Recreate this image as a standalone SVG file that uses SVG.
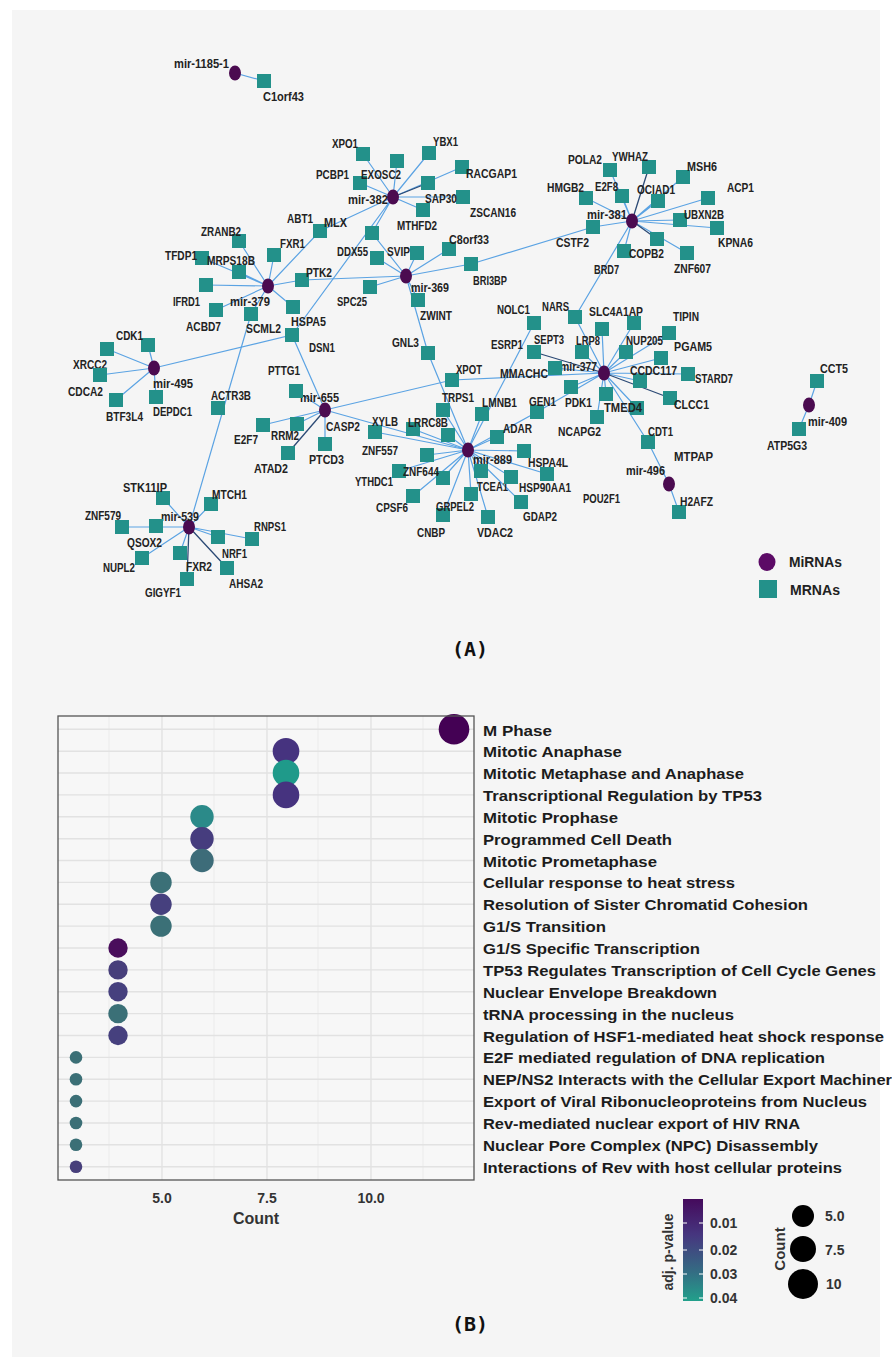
<svg xmlns="http://www.w3.org/2000/svg" width="892" height="1367" viewBox="0 0 892 1367">
<defs>
<style>
.e{stroke:#5ba3e3;stroke-width:1.2;fill:none}
.d{stroke:#2c4a75;stroke-width:1.3;fill:none}
.m{fill:#4b0b50}
.s{fill:#23918a}
.t{font-family:"Liberation Sans",Arial,sans-serif;font-weight:bold;font-size:13px;fill:#222}
.g{stroke:#e2e2e2;stroke-width:1.4}
.gm{stroke:#ebebeb;stroke-width:1}
.r{font-family:"Liberation Sans",Arial,sans-serif;font-weight:bold;font-size:15px;fill:#1c1c1c}
.ax{font-family:"Liberation Sans",Arial,sans-serif;font-weight:bold;font-size:14px;fill:#333}
.cap{font-family:"DejaVu Sans Mono",monospace;font-weight:bold;font-size:20px;fill:#111}
</style>
<linearGradient id="vir" x1="0" y1="0" x2="0" y2="1">
<stop offset="0" stop-color="#450a5c"/>
<stop offset="0.35" stop-color="#46367f"/>
<stop offset="0.7" stop-color="#356a83"/>
<stop offset="1" stop-color="#22a08b"/>
</linearGradient>
</defs>
<rect width="892" height="1367" fill="#ffffff"/>
<rect x="12" y="10" width="868" height="1347" fill="#f5f5f5"/>

<g id="connectors">
<path class="e" d="M235 73L264 81"/>
<path class="e" d="M393 197L363 154M393 197L397 161M393 197L429 153M393 197L360 183M393 197L462 167M393 197L463 197M393 197L423 210M393 197L320 231M393 197L372 233M393 197L292 335"/>
<path class="d" d="M393 197L428 183"/>
<path class="e" d="M632 221L610 170M632 221L683 177M632 221L586 198M632 221L622 196M632 221L658 201M632 221L708 198M632 221L680 220M632 221L717 228M632 221L593 227M632 221L624 251M632 221L687 253M632 221L575 317"/>
<path class="d" d="M632 221L649 167M632 221L657 239"/>
<path class="e" d="M593 227L471 264L406 276"/>
<path class="e" d="M268 286L239 241M268 286L274 255M268 286L202 258M268 286L239 272M268 286L206 285M268 286L216 310M268 286L251 314M268 286L293 307M268 286L302 280M268 286L320 231"/>
<path class="e" d="M302 280L406 276"/>
<path class="e" d="M406 276L377 258M406 276L417 253M406 276L449 249M406 276L370 287M406 276L418 300M406 276L372 233M406 276L428 353L468 450"/>
<path class="e" d="M154 368L148 345M154 368L107 349M154 368L100 375M154 368L116 400M154 368L156 397M154 368L292 335L325 410"/>
<path class="e" d="M325 410L296 391M325 410L263 425M325 410L297 424M325 410L325 444M325 410L452 380L604 373M325 410L468 450"/>
<path class="d" d="M325 410L288 453"/>
<path class="e" d="M604 373L575 317M604 373L602 329M604 373L634 323M604 373L669 333M604 373L582 352M604 373L626 352M604 373L661 358M604 373L555 368M604 373L640 381M604 373L688 374M604 373L571 387M604 373L606 394M604 373L637 408M604 373L597 417M604 373L648 442L669 484L679 512M604 373L537 412L468 450"/>
<path class="d" d="M604 373L534 352M604 373L670 398"/>
<path class="e" d="M534 323L468 450"/>
<path class="e" d="M468 450L443 410M468 450L448 435M468 450L482 414M468 450L497 437M468 450L375 432M468 450L413 429M468 450L427 455M468 450L399 471M468 450L443 478M468 450L481 471M468 450L511 477M468 450L547 474M468 450L524 451M468 450L413 496M468 450L471 494M468 450L521 502M468 450L443 515M468 450L488 517"/>
<path class="e" d="M189 527L163 498M189 527L211 504M189 527L122 527M189 527L142 558M189 527L180 553M189 527L218 537M189 527L252 539M189 527L251 314"/>
<path class="d" d="M189 527L187 579M189 527L227 568"/>
<path class="e" d="M809 405L817 381M809 405L799 429"/>
</g>

<g id="network-nodes">
<g id="mir-1185-1"><ellipse class="m" cx="235" cy="73" rx="6" ry="7.5"/><text class="t" x="174" y="68" textLength="55" lengthAdjust="spacingAndGlyphs">mir-1185-1</text></g>
<g id="mir-382"><ellipse class="m" cx="393" cy="197" rx="6" ry="7.5"/><text class="t" x="348" y="204" textLength="40" lengthAdjust="spacingAndGlyphs">mir-382</text></g>
<g id="mir-381"><ellipse class="m" cx="632" cy="221" rx="6" ry="7.5"/><text class="t" x="587" y="219" textLength="40" lengthAdjust="spacingAndGlyphs">mir-381</text></g>
<g id="mir-379"><ellipse class="m" cx="268" cy="286" rx="6" ry="7.5"/><text class="t" x="230" y="306" textLength="40" lengthAdjust="spacingAndGlyphs">mir-379</text></g>
<g id="mir-369"><ellipse class="m" cx="406" cy="276" rx="6" ry="7.5"/><text class="t" x="411" y="292" textLength="38" lengthAdjust="spacingAndGlyphs">mir-369</text></g>
<g id="mir-495"><ellipse class="m" cx="154" cy="368" rx="6" ry="7.5"/><text class="t" x="153" y="388" textLength="40" lengthAdjust="spacingAndGlyphs">mir-495</text></g>
<g id="mir-655"><ellipse class="m" cx="325" cy="410" rx="6" ry="7.5"/><text class="t" x="300" y="402" textLength="39" lengthAdjust="spacingAndGlyphs">mir-655</text></g>
<g id="mir-377"><ellipse class="m" cx="604" cy="373" rx="6" ry="7.5"/><text class="t" x="560" y="371" textLength="37" lengthAdjust="spacingAndGlyphs">mir-377</text></g>
<g id="mir-889"><ellipse class="m" cx="468" cy="450" rx="6" ry="7.5"/><text class="t" x="473" y="464" textLength="39" lengthAdjust="spacingAndGlyphs">mir-889</text></g>
<g id="mir-539"><ellipse class="m" cx="189" cy="527" rx="6" ry="7.5"/><text class="t" x="161" y="521" textLength="38" lengthAdjust="spacingAndGlyphs">mir-539</text></g>
<g id="mir-496"><ellipse class="m" cx="669" cy="484" rx="6" ry="7.5"/><text class="t" x="626" y="475" textLength="39" lengthAdjust="spacingAndGlyphs">mir-496</text></g>
<g id="mir-409"><ellipse class="m" cx="809" cy="405" rx="6" ry="7.5"/><text class="t" x="808" y="426" textLength="39" lengthAdjust="spacingAndGlyphs">mir-409</text></g>

<g id="C1orf43"><rect class="s" x="257" y="74" width="14" height="14"/><text class="t" x="263" y="101" textLength="41" lengthAdjust="spacingAndGlyphs">C1orf43</text></g>
<g id="XPO1"><rect class="s" x="356" y="147" width="14" height="14"/><text class="t" x="332" y="148" textLength="26" lengthAdjust="spacingAndGlyphs">XPO1</text></g>
<g id="PCBP1"><rect class="s" x="353" y="176" width="14" height="14"/><text class="t" x="316" y="179" textLength="33" lengthAdjust="spacingAndGlyphs">PCBP1</text></g>
<g id="EXOSC2"><rect class="s" x="390" y="154" width="14" height="14"/><text class="t" x="361" y="179" textLength="40" lengthAdjust="spacingAndGlyphs">EXOSC2</text></g>
<g id="YBX1"><rect class="s" x="422" y="146" width="14" height="14"/><text class="t" x="433" y="146" textLength="25" lengthAdjust="spacingAndGlyphs">YBX1</text></g>
<g id="RACGAP1"><rect class="s" x="455" y="160" width="14" height="14"/><text class="t" x="466" y="178" textLength="51" lengthAdjust="spacingAndGlyphs">RACGAP1</text></g>
<g id="ZSCAN16"><rect class="s" x="456" y="190" width="14" height="14"/><text class="t" x="470" y="217" textLength="46" lengthAdjust="spacingAndGlyphs">ZSCAN16</text></g>
<g id="MTHFD2"><rect class="s" x="416" y="203" width="14" height="14"/><text class="t" x="397" y="230" textLength="40" lengthAdjust="spacingAndGlyphs">MTHFD2</text></g>
<g id="SAP30"><rect class="s" x="421" y="176" width="14" height="14"/><text class="t" x="425" y="203" textLength="32" lengthAdjust="spacingAndGlyphs">SAP30</text></g>
<g id="MLX"><rect class="s" x="313" y="224" width="14" height="14"/><text class="t" x="324" y="227" textLength="23" lengthAdjust="spacingAndGlyphs">MLX</text></g>
<g id="ABT1"><rect class="s" x="365" y="226" width="14" height="14"/><text class="t" x="287" y="223" textLength="26" lengthAdjust="spacingAndGlyphs">ABT1</text></g>

<g id="POLA2"><rect class="s" x="603" y="163" width="14" height="14"/><text class="t" x="568" y="164" textLength="34" lengthAdjust="spacingAndGlyphs">POLA2</text></g>
<g id="YWHAZ"><rect class="s" x="642" y="160" width="14" height="14"/><text class="t" x="612" y="161" textLength="36" lengthAdjust="spacingAndGlyphs">YWHAZ</text></g>
<g id="MSH6"><rect class="s" x="676" y="170" width="14" height="14"/><text class="t" x="687" y="171" textLength="30" lengthAdjust="spacingAndGlyphs">MSH6</text></g>
<g id="HMGB2"><rect class="s" x="579" y="191" width="14" height="14"/><text class="t" x="547" y="192" textLength="37" lengthAdjust="spacingAndGlyphs">HMGB2</text></g>
<g id="E2F8"><rect class="s" x="615" y="189" width="14" height="14"/><text class="t" x="595" y="191" textLength="23" lengthAdjust="spacingAndGlyphs">E2F8</text></g>
<g id="OCIAD1"><rect class="s" x="651" y="194" width="14" height="14"/><text class="t" x="637" y="194" textLength="38" lengthAdjust="spacingAndGlyphs">OCIAD1</text></g>
<g id="ACP1"><rect class="s" x="701" y="191" width="14" height="14"/><text class="t" x="727" y="192" textLength="27" lengthAdjust="spacingAndGlyphs">ACP1</text></g>
<g id="UBXN2B"><rect class="s" x="673" y="213" width="14" height="14"/><text class="t" x="684" y="219" textLength="40" lengthAdjust="spacingAndGlyphs">UBXN2B</text></g>
<g id="KPNA6"><rect class="s" x="710" y="221" width="14" height="14"/><text class="t" x="718" y="247" textLength="35" lengthAdjust="spacingAndGlyphs">KPNA6</text></g>
<g id="CSTF2"><rect class="s" x="586" y="220" width="14" height="14"/><text class="t" x="556" y="247" textLength="33" lengthAdjust="spacingAndGlyphs">CSTF2</text></g>
<g id="BRD7"><rect class="s" x="617" y="244" width="14" height="14"/><text class="t" x="594" y="274" textLength="25" lengthAdjust="spacingAndGlyphs">BRD7</text></g>
<g id="COPB2"><rect class="s" x="650" y="232" width="14" height="14"/><text class="t" x="629" y="258" textLength="35" lengthAdjust="spacingAndGlyphs">COPB2</text></g>
<g id="ZNF607"><rect class="s" x="680" y="246" width="14" height="14"/><text class="t" x="674" y="273" textLength="37" lengthAdjust="spacingAndGlyphs">ZNF607</text></g>

<g id="ZRANB2"><rect class="s" x="232" y="234" width="14" height="14"/><text class="t" x="201" y="236" textLength="40" lengthAdjust="spacingAndGlyphs">ZRANB2</text></g>
<g id="FXR1"><rect class="s" x="267" y="248" width="14" height="14"/><text class="t" x="280" y="248" textLength="25" lengthAdjust="spacingAndGlyphs">FXR1</text></g>
<g id="TFDP1"><rect class="s" x="195" y="251" width="14" height="14"/><text class="t" x="165" y="260" textLength="32" lengthAdjust="spacingAndGlyphs">TFDP1</text></g>
<g id="MRPS18B"><rect class="s" x="232" y="265" width="14" height="14"/><text class="t" x="207" y="265" textLength="48" lengthAdjust="spacingAndGlyphs">MRPS18B</text></g>
<g id="PTK2"><rect class="s" x="295" y="273" width="14" height="14"/><text class="t" x="306" y="277" textLength="26" lengthAdjust="spacingAndGlyphs">PTK2</text></g>
<g id="IFRD1"><rect class="s" x="199" y="278" width="14" height="14"/><text class="t" x="173" y="306" textLength="27" lengthAdjust="spacingAndGlyphs">IFRD1</text></g>
<g id="ACBD7"><rect class="s" x="209" y="303" width="14" height="14"/><text class="t" x="186" y="331" textLength="35" lengthAdjust="spacingAndGlyphs">ACBD7</text></g>
<g id="SCML2"><rect class="s" x="244" y="307" width="14" height="14"/><text class="t" x="246" y="333" textLength="35" lengthAdjust="spacingAndGlyphs">SCML2</text></g>
<g id="HSPA5"><rect class="s" x="286" y="300" width="14" height="14"/><text class="t" x="291" y="326" textLength="35" lengthAdjust="spacingAndGlyphs">HSPA5</text></g>
<g id="DSN1"><rect class="s" x="285" y="328" width="14" height="14"/><text class="t" x="309" y="352" textLength="26" lengthAdjust="spacingAndGlyphs">DSN1</text></g>

<g id="DDX55"><rect class="s" x="370" y="251" width="14" height="14"/><text class="t" x="337" y="256" textLength="31" lengthAdjust="spacingAndGlyphs">DDX55</text></g>
<g id="SVIP"><rect class="s" x="410" y="246" width="14" height="14"/><text class="t" x="387" y="256" textLength="23" lengthAdjust="spacingAndGlyphs">SVIP</text></g>
<g id="C8orf33"><rect class="s" x="442" y="242" width="14" height="14"/><text class="t" x="449" y="244" textLength="40" lengthAdjust="spacingAndGlyphs">C8orf33</text></g>
<g id="BRI3BP"><rect class="s" x="464" y="257" width="14" height="14"/><text class="t" x="473" y="285" textLength="34" lengthAdjust="spacingAndGlyphs">BRI3BP</text></g>
<g id="SPC25"><rect class="s" x="363" y="280" width="14" height="14"/><text class="t" x="337" y="306" textLength="30" lengthAdjust="spacingAndGlyphs">SPC25</text></g>
<g id="ZWINT"><rect class="s" x="411" y="293" width="14" height="14"/><text class="t" x="420" y="320" textLength="32" lengthAdjust="spacingAndGlyphs">ZWINT</text></g>
<g id="GNL3"><rect class="s" x="421" y="346" width="14" height="14"/><text class="t" x="392" y="347" textLength="27" lengthAdjust="spacingAndGlyphs">GNL3</text></g>

<g id="CDK1"><rect class="s" x="141" y="338" width="14" height="14"/><text class="t" x="116" y="340" textLength="27" lengthAdjust="spacingAndGlyphs">CDK1</text></g>
<g id="XRCC2"><rect class="s" x="100" y="342" width="14" height="14"/><text class="t" x="73" y="369" textLength="34" lengthAdjust="spacingAndGlyphs">XRCC2</text></g>
<g id="CDCA2"><rect class="s" x="93" y="368" width="14" height="14"/><text class="t" x="68" y="396" textLength="35" lengthAdjust="spacingAndGlyphs">CDCA2</text></g>
<g id="BTF3L4"><rect class="s" x="109" y="393" width="14" height="14"/><text class="t" x="106" y="421" textLength="37" lengthAdjust="spacingAndGlyphs">BTF3L4</text></g>
<g id="DEPDC1"><rect class="s" x="149" y="390" width="14" height="14"/><text class="t" x="153" y="416" textLength="39" lengthAdjust="spacingAndGlyphs">DEPDC1</text></g>

<g id="PTTG1"><rect class="s" x="289" y="384" width="14" height="14"/><text class="t" x="268" y="375" textLength="32" lengthAdjust="spacingAndGlyphs">PTTG1</text></g>
<g id="ACTR3B"><rect class="s" x="211" y="401" width="14" height="14"/><text class="t" x="211" y="400" textLength="40" lengthAdjust="spacingAndGlyphs">ACTR3B</text></g>
<g id="E2F7"><rect class="s" x="256" y="418" width="14" height="14"/><text class="t" x="234" y="444" textLength="24" lengthAdjust="spacingAndGlyphs">E2F7</text></g>
<g id="RRM2"><rect class="s" x="290" y="417" width="14" height="14"/><text class="t" x="271" y="440" textLength="28" lengthAdjust="spacingAndGlyphs">RRM2</text></g>
<g id="ATAD2"><rect class="s" x="281" y="446" width="14" height="14"/><text class="t" x="254" y="473" textLength="34" lengthAdjust="spacingAndGlyphs">ATAD2</text></g>
<g id="PTCD3"><rect class="s" x="318" y="437" width="14" height="14"/><text class="t" x="309" y="464" textLength="35" lengthAdjust="spacingAndGlyphs">PTCD3</text></g>
<g id="CASP2"><rect class="s" x="441" y="428" width="14" height="14"/><text class="t" x="326" y="431" textLength="34" lengthAdjust="spacingAndGlyphs">CASP2</text></g>

<g id="ESRP1"><rect class="s" x="627" y="316" width="14" height="14"/><text class="t" x="491" y="349" textLength="32" lengthAdjust="spacingAndGlyphs">ESRP1</text></g>
<g id="NOLC1"><rect class="s" x="527" y="316" width="14" height="14"/><text class="t" x="497" y="314" textLength="33" lengthAdjust="spacingAndGlyphs">NOLC1</text></g>
<g id="NARS"><rect class="s" x="568" y="310" width="14" height="14"/><text class="t" x="542" y="311" textLength="27" lengthAdjust="spacingAndGlyphs">NARS</text></g>
<g id="SLC4A1AP"><rect class="s" x="595" y="322" width="14" height="14"/><text class="t" x="589" y="316" textLength="54" lengthAdjust="spacingAndGlyphs">SLC4A1AP</text></g>
<g id="TIPIN"><rect class="s" x="662" y="326" width="14" height="14"/><text class="t" x="673" y="321" textLength="26" lengthAdjust="spacingAndGlyphs">TIPIN</text></g>
<g id="LRP8"><rect class="s" x="575" y="345" width="14" height="14"/><text class="t" x="576" y="345" textLength="24" lengthAdjust="spacingAndGlyphs">LRP8</text></g>
<g id="NUP205"><rect class="s" x="619" y="345" width="14" height="14"/><text class="t" x="626" y="345" textLength="37" lengthAdjust="spacingAndGlyphs">NUP205</text></g>
<g id="PGAM5"><rect class="s" x="654" y="351" width="14" height="14"/><text class="t" x="674" y="351" textLength="38" lengthAdjust="spacingAndGlyphs">PGAM5</text></g>
<g id="SEPT3"><rect class="s" x="527" y="345" width="14" height="14"/><text class="t" x="534" y="344" textLength="30" lengthAdjust="spacingAndGlyphs">SEPT3</text></g>
<g id="MMACHC"><rect class="s" x="548" y="361" width="14" height="14"/><text class="t" x="500" y="378" textLength="48" lengthAdjust="spacingAndGlyphs">MMACHC</text></g>
<g id="CCDC117"><rect class="s" x="633" y="374" width="14" height="14"/><text class="t" x="630" y="375" textLength="47" lengthAdjust="spacingAndGlyphs">CCDC117</text></g>
<g id="STARD7"><rect class="s" x="681" y="367" width="14" height="14"/><text class="t" x="695" y="383" textLength="38" lengthAdjust="spacingAndGlyphs">STARD7</text></g>
<g id="XPOT"><rect class="s" x="445" y="373" width="14" height="14"/><text class="t" x="456" y="374" textLength="26" lengthAdjust="spacingAndGlyphs">XPOT</text></g>
<g id="PDK1"><rect class="s" x="564" y="380" width="14" height="14"/><text class="t" x="565" y="407" textLength="27" lengthAdjust="spacingAndGlyphs">PDK1</text></g>
<g id="MTPAP"><rect class="s" x="630" y="401" width="14" height="14"/><text class="t" x="674" y="461" textLength="39" lengthAdjust="spacingAndGlyphs">MTPAP</text></g>
<g id="TMED4"><rect class="s" x="599" y="387" width="14" height="14"/><text class="t" x="604" y="412" textLength="38" lengthAdjust="spacingAndGlyphs">TMED4</text></g>
<g id="CLCC1"><rect class="s" x="663" y="391" width="14" height="14"/><text class="t" x="674" y="409" textLength="35" lengthAdjust="spacingAndGlyphs">CLCC1</text></g>
<g id="NCAPG2"><rect class="s" x="590" y="410" width="14" height="14"/><text class="t" x="558" y="436" textLength="43" lengthAdjust="spacingAndGlyphs">NCAPG2</text></g>
<g id="CDT1"><rect class="s" x="641" y="435" width="14" height="14"/><text class="t" x="648" y="436" textLength="25" lengthAdjust="spacingAndGlyphs">CDT1</text></g>
<g id="GEN1"><rect class="s" x="530" y="405" width="14" height="14"/><text class="t" x="529" y="406" textLength="27" lengthAdjust="spacingAndGlyphs">GEN1</text></g>
<g id="H2AFZ"><rect class="s" x="672" y="505" width="14" height="14"/><text class="t" x="680" y="506" textLength="33" lengthAdjust="spacingAndGlyphs">H2AFZ</text></g>
<g id="CCT5"><rect class="s" x="810" y="374" width="14" height="14"/><text class="t" x="820" y="373" textLength="28" lengthAdjust="spacingAndGlyphs">CCT5</text></g>
<g id="ATP5G3"><rect class="s" x="792" y="422" width="14" height="14"/><text class="t" x="767" y="450" textLength="40" lengthAdjust="spacingAndGlyphs">ATP5G3</text></g>

<g id="TRPS1"><rect class="s" x="436" y="403" width="14" height="14"/><text class="t" x="442" y="402" textLength="32" lengthAdjust="spacingAndGlyphs">TRPS1</text></g>
<g id="LMNB1"><rect class="s" x="475" y="407" width="14" height="14"/><text class="t" x="482" y="407" textLength="35" lengthAdjust="spacingAndGlyphs">LMNB1</text></g>
<g id="ADAR"><rect class="s" x="490" y="430" width="14" height="14"/><text class="t" x="503" y="433" textLength="29" lengthAdjust="spacingAndGlyphs">ADAR</text></g>
<g id="XYLB"><rect class="s" x="368" y="425" width="14" height="14"/><text class="t" x="372" y="426" textLength="26" lengthAdjust="spacingAndGlyphs">XYLB</text></g>
<g id="LRRC8B"><rect class="s" x="406" y="422" width="14" height="14"/><text class="t" x="408" y="427" textLength="40" lengthAdjust="spacingAndGlyphs">LRRC8B</text></g>
<g id="ZNF557"><rect class="s" x="420" y="448" width="14" height="14"/><text class="t" x="362" y="455" textLength="36" lengthAdjust="spacingAndGlyphs">ZNF557</text></g>
<g id="YTHDC1"><rect class="s" x="392" y="464" width="14" height="14"/><text class="t" x="355" y="486" textLength="38" lengthAdjust="spacingAndGlyphs">YTHDC1</text></g>
<g id="ZNF644"><rect class="s" x="436" y="471" width="14" height="14"/><text class="t" x="403" y="476" textLength="36" lengthAdjust="spacingAndGlyphs">ZNF644</text></g>
<g id="TCEA1"><rect class="s" x="474" y="464" width="14" height="14"/><text class="t" x="477" y="491" textLength="31" lengthAdjust="spacingAndGlyphs">TCEA1</text></g>
<g id="POU2F1"><rect class="s" x="517" y="444" width="14" height="14"/><text class="t" x="583" y="503" textLength="37" lengthAdjust="spacingAndGlyphs">POU2F1</text></g>
<g id="HSP90AA1"><rect class="s" x="504" y="470" width="14" height="14"/><text class="t" x="519" y="492" textLength="52" lengthAdjust="spacingAndGlyphs">HSP90AA1</text></g>
<g id="HSPA4L"><rect class="s" x="540" y="467" width="14" height="14"/><text class="t" x="528" y="467" textLength="40" lengthAdjust="spacingAndGlyphs">HSPA4L</text></g>
<g id="CPSF6"><rect class="s" x="406" y="489" width="14" height="14"/><text class="t" x="376" y="512" textLength="32" lengthAdjust="spacingAndGlyphs">CPSF6</text></g>
<g id="CNBP"><rect class="s" x="436" y="508" width="14" height="14"/><text class="t" x="417" y="537" textLength="28" lengthAdjust="spacingAndGlyphs">CNBP</text></g>
<g id="GRPEL2"><rect class="s" x="464" y="487" width="14" height="14"/><text class="t" x="436" y="511" textLength="38" lengthAdjust="spacingAndGlyphs">GRPEL2</text></g>
<g id="GDAP2"><rect class="s" x="514" y="495" width="14" height="14"/><text class="t" x="523" y="521" textLength="34" lengthAdjust="spacingAndGlyphs">GDAP2</text></g>
<g id="VDAC2"><rect class="s" x="481" y="510" width="14" height="14"/><text class="t" x="477" y="537" textLength="36" lengthAdjust="spacingAndGlyphs">VDAC2</text></g>

<g id="STK11IP"><rect class="s" x="156" y="491" width="14" height="14"/><text class="t" x="123" y="492" textLength="44" lengthAdjust="spacingAndGlyphs">STK11IP</text></g>
<g id="MTCH1"><rect class="s" x="204" y="497" width="14" height="14"/><text class="t" x="212" y="499" textLength="35" lengthAdjust="spacingAndGlyphs">MTCH1</text></g>
<g id="ZNF579"><rect class="s" x="115" y="520" width="14" height="14"/><text class="t" x="85" y="520" textLength="36" lengthAdjust="spacingAndGlyphs">ZNF579</text></g>
<g id="QSOX2"><rect class="s" x="149" y="519" width="14" height="14"/><text class="t" x="127" y="547" textLength="35" lengthAdjust="spacingAndGlyphs">QSOX2</text></g>
<g id="NRF1"><rect class="s" x="211" y="530" width="14" height="14"/><text class="t" x="222" y="558" textLength="25" lengthAdjust="spacingAndGlyphs">NRF1</text></g>
<g id="RNPS1"><rect class="s" x="245" y="532" width="14" height="14"/><text class="t" x="254" y="531" textLength="32" lengthAdjust="spacingAndGlyphs">RNPS1</text></g>
<g id="FXR2"><rect class="s" x="173" y="546" width="14" height="14"/><text class="t" x="186" y="571" textLength="26" lengthAdjust="spacingAndGlyphs">FXR2</text></g>
<g id="NUPL2"><rect class="s" x="135" y="551" width="14" height="14"/><text class="t" x="103" y="572" textLength="32" lengthAdjust="spacingAndGlyphs">NUPL2</text></g>
<g id="AHSA2"><rect class="s" x="220" y="561" width="14" height="14"/><text class="t" x="229" y="588" textLength="34" lengthAdjust="spacingAndGlyphs">AHSA2</text></g>
<g id="GIGYF1"><rect class="s" x="180" y="572" width="14" height="14"/><text class="t" x="145" y="597" textLength="36" lengthAdjust="spacingAndGlyphs">GIGYF1</text></g>
</g>

<g id="network-legend">
<ellipse cx="767" cy="562" rx="8.5" ry="9" fill="#5c0a66"/>
<text class="t" x="789" y="567" style="font-size:14px" textLength="53" lengthAdjust="spacingAndGlyphs">MiRNAs</text>
<rect x="759" y="580" width="18" height="18" fill="#23918a"/>
<text class="t" x="790" y="595" style="font-size:14px" textLength="50" lengthAdjust="spacingAndGlyphs">MRNAs</text>
</g>

<text class="cap" x="470" y="656" text-anchor="middle">(A)</text>

<g id="dotplot">
<rect x="58" y="716" width="416" height="464" fill="#f7f7f7"/>
<g class="gm">
<line x1="109" y1="716" x2="109" y2="1180"/><line x1="214" y1="716" x2="214" y2="1180"/><line x1="318" y1="716" x2="318" y2="1180"/><line x1="423" y1="716" x2="423" y2="1180"/>
</g>
<g class="g">
<line x1="162" y1="716" x2="162" y2="1180"/><line x1="267" y1="716" x2="267" y2="1180"/><line x1="371" y1="716" x2="371" y2="1180"/>
<line x1="58" y1="729.3" x2="474" y2="729.3"/><line x1="58" y1="751.2" x2="474" y2="751.2"/><line x1="58" y1="773" x2="474" y2="773"/><line x1="58" y1="794.9" x2="474" y2="794.9"/><line x1="58" y1="816.8" x2="474" y2="816.8"/><line x1="58" y1="838.7" x2="474" y2="838.7"/><line x1="58" y1="860.5" x2="474" y2="860.5"/><line x1="58" y1="882.4" x2="474" y2="882.4"/><line x1="58" y1="904.3" x2="474" y2="904.3"/><line x1="58" y1="926.1" x2="474" y2="926.1"/><line x1="58" y1="948" x2="474" y2="948"/><line x1="58" y1="969.9" x2="474" y2="969.9"/><line x1="58" y1="991.7" x2="474" y2="991.7"/><line x1="58" y1="1013.6" x2="474" y2="1013.6"/><line x1="58" y1="1035.5" x2="474" y2="1035.5"/><line x1="58" y1="1057.4" x2="474" y2="1057.4"/><line x1="58" y1="1079.2" x2="474" y2="1079.2"/><line x1="58" y1="1101.1" x2="474" y2="1101.1"/><line x1="58" y1="1123" x2="474" y2="1123"/><line x1="58" y1="1144.8" x2="474" y2="1144.8"/><line x1="58" y1="1166.7" x2="474" y2="1166.7"/>
</g>
<g id="dots">
<circle cx="454" cy="729.3" r="15.3" fill="#440154"/>
<circle cx="286" cy="751.2" r="13.3" fill="#46337f"/>
<circle cx="286" cy="773" r="13.3" fill="#1f9a8a"/>
<circle cx="286" cy="794.9" r="13.3" fill="#46337f"/>
<circle cx="202" cy="816.8" r="11.7" fill="#2b8a89"/>
<circle cx="202" cy="838.7" r="11.7" fill="#463d7e"/>
<circle cx="202" cy="860.5" r="11.7" fill="#3d6c79"/>
<circle cx="161" cy="882.4" r="10.7" fill="#3b7077"/>
<circle cx="161" cy="904.3" r="10.7" fill="#46407e"/>
<circle cx="161" cy="926.1" r="10.7" fill="#3b7077"/>
<circle cx="118" cy="948" r="9.7" fill="#4a0e5c"/>
<circle cx="118" cy="969.9" r="9.7" fill="#473f7b"/>
<circle cx="118" cy="991.7" r="9.7" fill="#46407e"/>
<circle cx="118" cy="1013.6" r="9.7" fill="#3b7077"/>
<circle cx="118" cy="1035.5" r="9.7" fill="#46407e"/>
<circle cx="76" cy="1057.4" r="6.3" fill="#3b6f76"/>
<circle cx="76" cy="1079.2" r="6.3" fill="#3b6f76"/>
<circle cx="76" cy="1101.1" r="6.3" fill="#3b6f76"/>
<circle cx="76" cy="1123" r="6.3" fill="#3b6f76"/>
<circle cx="76" cy="1144.8" r="6.3" fill="#3b6f76"/>
<circle cx="76" cy="1166.7" r="6.3" fill="#473f7b"/>
</g>
<rect x="58" y="716" width="416" height="464" fill="none" stroke="#555" stroke-width="1.3"/>
<text class="ax" x="162" y="1203" text-anchor="middle">5.0</text>
<text class="ax" x="267" y="1203" text-anchor="middle">7.5</text>
<text class="ax" x="371" y="1203" text-anchor="middle">10.0</text>
<text class="ax" x="256" y="1224" text-anchor="middle" style="font-size:16px">Count</text>
<g id="term-labels">
<text class="r" x="483" y="735.5" textLength="69" lengthAdjust="spacingAndGlyphs">M Phase</text>
<text class="r" x="483" y="757.2" textLength="139" lengthAdjust="spacingAndGlyphs">Mitotic Anaphase</text>
<text class="r" x="483" y="779" textLength="261" lengthAdjust="spacingAndGlyphs">Mitotic Metaphase and Anaphase</text>
<text class="r" x="483" y="800.9" textLength="279" lengthAdjust="spacingAndGlyphs">Transcriptional Regulation by TP53</text>
<text class="r" x="483" y="822.8" textLength="135" lengthAdjust="spacingAndGlyphs">Mitotic Prophase</text>
<text class="r" x="483" y="844.7" textLength="189" lengthAdjust="spacingAndGlyphs">Programmed Cell Death</text>
<text class="r" x="483" y="866.5" textLength="174" lengthAdjust="spacingAndGlyphs">Mitotic Prometaphase</text>
<text class="r" x="483" y="888.4" textLength="252" lengthAdjust="spacingAndGlyphs">Cellular response to heat stress</text>
<text class="r" x="483" y="910.3" textLength="325" lengthAdjust="spacingAndGlyphs">Resolution of Sister Chromatid Cohesion</text>
<text class="r" x="483" y="932.1" textLength="123" lengthAdjust="spacingAndGlyphs">G1/S Transition</text>
<text class="r" x="483" y="954" textLength="217" lengthAdjust="spacingAndGlyphs">G1/S Specific Transcription</text>
<text class="r" x="483" y="975.9" textLength="393" lengthAdjust="spacingAndGlyphs">TP53 Regulates Transcription of Cell Cycle Genes</text>
<text class="r" x="483" y="997.7" textLength="234" lengthAdjust="spacingAndGlyphs">Nuclear Envelope Breakdown</text>
<text class="r" x="483" y="1019.6" textLength="251" lengthAdjust="spacingAndGlyphs">tRNA processing in the nucleus</text>
<text class="r" x="483" y="1041.5" textLength="401" lengthAdjust="spacingAndGlyphs">Regulation of HSF1-mediated heat shock response</text>
<text class="r" x="483" y="1063.4" textLength="342" lengthAdjust="spacingAndGlyphs">E2F mediated regulation of DNA replication</text>
<text class="r" x="483" y="1085.2" textLength="409" lengthAdjust="spacingAndGlyphs">NEP/NS2 Interacts with the Cellular Export Machiner</text>
<text class="r" x="483" y="1107.1" textLength="384" lengthAdjust="spacingAndGlyphs">Export of Viral Ribonucleoproteins from Nucleus</text>
<text class="r" x="483" y="1129" textLength="317" lengthAdjust="spacingAndGlyphs">Rev-mediated nuclear export of HIV RNA</text>
<text class="r" x="483" y="1150.8" textLength="335" lengthAdjust="spacingAndGlyphs">Nuclear Pore Complex (NPC) Disassembly</text>
<text class="r" x="483" y="1172.7" textLength="359" lengthAdjust="spacingAndGlyphs">Interactions of Rev with host cellular proteins</text>
</g>
</g>

<g id="dotplot-legend">
<rect x="683" y="1199" width="20" height="102" fill="url(#vir)"/>
<g stroke="#ffffff" stroke-width="1">
<line x1="683" y1="1223" x2="687" y2="1223"/><line x1="699" y1="1223" x2="703" y2="1223"/>
<line x1="683" y1="1250" x2="687" y2="1250"/><line x1="699" y1="1250" x2="703" y2="1250"/>
<line x1="683" y1="1274" x2="687" y2="1274"/><line x1="699" y1="1274" x2="703" y2="1274"/>
<line x1="683" y1="1298" x2="687" y2="1298"/><line x1="699" y1="1298" x2="703" y2="1298"/>
</g>
<text class="ax" x="710" y="1228">0.01</text>
<text class="ax" x="710" y="1255">0.02</text>
<text class="ax" x="710" y="1279">0.03</text>
<text class="ax" x="710" y="1303">0.04</text>
<text class="ax" transform="translate(673 1252) rotate(-90)" text-anchor="middle">adj.  p-value</text>
<text class="ax" transform="translate(785 1249) rotate(-90)" text-anchor="middle" style="font-size:15px">Count</text>
<circle cx="803" cy="1216" r="11" fill="#000"/>
<circle cx="803" cy="1249" r="13" fill="#000"/>
<circle cx="803" cy="1284" r="15" fill="#000"/>
<text class="ax" x="825" y="1221">5.0</text>
<text class="ax" x="825" y="1255">7.5</text>
<text class="ax" x="826" y="1289">10</text>
</g>

<text class="cap" x="470" y="1331" text-anchor="middle">(B)</text>
</svg>
